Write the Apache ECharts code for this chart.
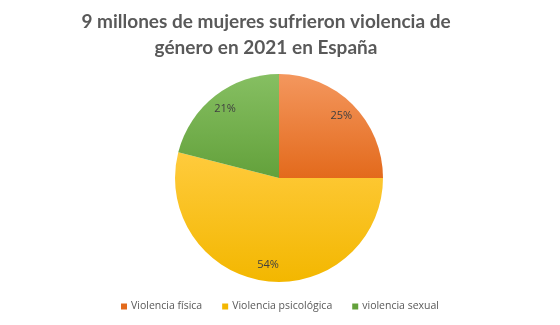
<!DOCTYPE html>
<html>
<head>
<meta charset="utf-8">
<script src="https://cdn.jsdelivr.net/npm/echarts@6/dist/echarts.min.js"></script>
<style>
  html, body { margin: 0; padding: 0; background: #ffffff; }
  #chart { width: 560px; height: 325px; }
</style>
</head>
<body>
<div id="chart"></div>
<script>
// Tipos de violencia y porcentaje de mujeres afectadas
const categories = ['Violencia física', 'Violencia psicológica', 'violencia sexual'];
const values = [25, 54, 21];
const colorStops = [
  ['#F4975E', '#E36A1C'],
  ['#FFCB3D', '#F3B700'],
  ['#86BF62', '#63A13B']
];

const CX = 279, CY = 178, R = 104;

const chart = echarts.init(document.getElementById('chart'), null, { renderer: 'canvas' });

const data = categories.map((name, i) => ({
  name: name,
  value: values[i],
  itemStyle: {
    color: new echarts.graphic.LinearGradient(0, 0, 0, 1, [
      { offset: 0, color: colorStops[i][0] },
      { offset: 1, color: colorStops[i][1] }
    ])
  }
}));

chart.setOption({
  animation: false,
  backgroundColor: '#ffffff',
  title: {
    text: '9 millones de mujeres sufrieron violencia de\ngénero en 2021 en España',
    left: 261,
    textAlign: 'center',
    top: 4,
    textStyle: {
      fontFamily: 'Lato',
      fontWeight: 'bold',
      fontSize: 19,
      lineHeight: 26,
      color: '#595959'
    }
  },
  legend: {
    bottom: 8,
    left: 'center',
    itemWidth: 6,
    itemHeight: 6,
    itemGap: 20,
    icon: 'rect',
    textStyle: { fontFamily: 'Open Sans', fontSize: 10.5, color: '#595959', padding: [0, 0, 0, -1] },
    data: categories.map((c, i) => ({ name: c, itemStyle: { color: colorStops[i][1] } }))
  },
  series: [{
    type: 'pie',
    center: [CX, CY],
    radius: R,
    startAngle: 90,
    clockwise: true,
    data: data,
    label: {
      show: true,
      position: 'inside',
      formatter: '{c}%',
      fontFamily: 'Open Sans',
      fontSize: 11,
      color: '#404040'
    },
    labelLine: { show: false },
    // push the inside labels out toward the rim of each slice
    labelLayout: function (params) {
      const r = params.labelRect;
      const lx = r.x + r.width / 2;
      const ly = r.y + r.height / 2;
      return {
        x: CX + (lx - CX) * 1.6,
        y: CY + (ly - CY) * 1.6
      };
    },
    itemStyle: { borderWidth: 0 }
  }]
});
</script>
</body>
</html>
